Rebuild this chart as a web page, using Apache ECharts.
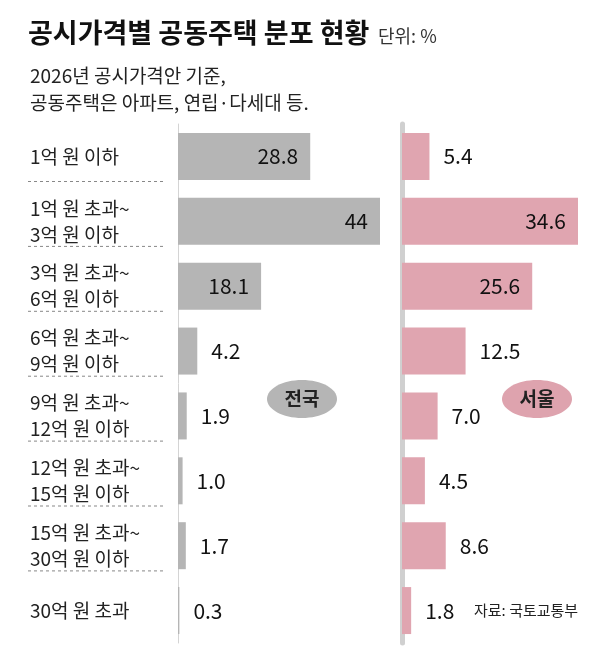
<!DOCTYPE html>
<html>
<head>
<meta charset="utf-8">
<script src="https://cdn.jsdelivr.net/npm/echarts@6/dist/echarts.min.js"></script>
<style>html,body{margin:0;padding:0;background:#fff}#main{width:610px;height:660px}</style>
</head>
<body>
<div id="main"></div>
<script>
var categories = ['1억 원 이하', '1억 원 초과~\n3억 원 이하', '3억 원 초과~\n6억 원 이하', '6억 원 초과~\n9억 원 이하',
  '9억 원 초과~\n12억 원 이하', '12억 원 초과~\n15억 원 이하', '15억 원 초과~\n30억 원 이하', '30억 원 초과'];
var national = [28.8, 44, 18.1, 4.2, 1.9, 1.0, 1.7, 0.3];
var nationalText = ['28.8', '44', '18.1', '4.2', '1.9', '1.0', '1.7', '0.3'];
var seoul = [5.4, 34.6, 25.6, 12.5, 7.0, 4.5, 8.6, 1.8];
var seoulText = ['5.4', '34.6', '25.6', '12.5', '7.0', '4.5', '8.6', '1.8'];
var nationalInside = 15;
var seoulInside = 20;

var FONT = '"Noto Sans CJK KR", sans-serif';
var myChart = echarts.init(document.getElementById('main'));

function barData(vals, texts, limit) {
  return vals.map(function (v, i) {
    return {
      value: v,
      shown: texts[i],
      label: v >= limit
        ? { position: 'insideRight', distance: 12 }
        : { position: 'right', distance: 14 }
    };
  });
}

var graphics = [
  { type: 'text', left: 28, top: 19, style: { text: '공시가격별 공동주택 분포 현황', font: 'bold 27px ' + FONT, fill: '#111' } },
  { type: 'text', left: 378, top: 27, style: { text: '단위: %', font: '18px ' + FONT, fill: '#333' } },
  { type: 'text', left: 30, top: 62, style: { text: '2026년 공시가격안 기준,\n공동주택은 아파트, 연립·다세대 등.', font: '19px ' + FONT, fill: '#222', lineHeight: 27 } },
  { type: 'ellipse', shape: { cx: 302, cy: 399, rx: 35, ry: 19 }, style: { fill: '#b5b5b5' } },
  { type: 'text', x: 302, y: 399, style: { text: '전국', font: 'bold 19px ' + FONT, fill: '#222', align: 'center', verticalAlign: 'middle' } },
  { type: 'ellipse', shape: { cx: 537, cy: 399, rx: 35, ry: 19 }, style: { fill: '#dea3ae' } },
  { type: 'text', x: 537, y: 399, style: { text: '서울', font: 'bold 19px ' + FONT, fill: '#222', align: 'center', verticalAlign: 'middle' } },
  { type: 'text', left: 474, top: 603, style: { text: '자료: 국토교통부', font: '15px ' + FONT, fill: '#222' } }
];
for (var i = 0; i < categories.length - 1; i++) {
  var y = 181.5 + i * 64.9;
  graphics.push({ type: 'line', shape: { x1: 28, y1: y, x2: 163, y2: y }, style: { stroke: '#888', lineWidth: 1, lineDash: [3, 3] } });
}

myChart.setOption({
  backgroundColor: '#fff',
  animation: false,
  textStyle: { fontFamily: FONT },
  graphic: graphics,
  grid: [
    { left: 178, top: 124, width: 202, height: 519 },
    { left: 402, top: 124, width: 176, height: 519 }
  ],
  xAxis: [
    { gridIndex: 0, type: 'value', min: 0, max: 44, show: false },
    { gridIndex: 1, type: 'value', min: 0, max: 34.6, show: false }
  ],
  yAxis: [
    {
      gridIndex: 0, type: 'category', data: categories, inverse: true,
      axisLine: { show: true, lineStyle: { color: '#d4d4d4', width: 1 } },
      axisTick: { show: false },
      axisLabel: { align: 'left', margin: 148, fontSize: 19, color: '#222', lineHeight: 26, fontFamily: FONT }
    },
    {
      gridIndex: 1, type: 'category', data: categories, inverse: true,
      axisLine: { show: true, lineStyle: { color: '#d0d0d0', width: 5 } },
      axisTick: { show: false },
      axisLabel: { show: false }
    }
  ],
  series: [
    {
      type: 'bar', xAxisIndex: 0, yAxisIndex: 0, barWidth: 47,
      itemStyle: { color: '#b5b5b5' },
      label: { show: true, fontSize: 21, color: '#111', formatter: function (p) { return p.data.shown; } },
      data: barData(national, nationalText, nationalInside)
    },
    {
      type: 'bar', xAxisIndex: 1, yAxisIndex: 1, barWidth: 47,
      itemStyle: { color: '#e0a5b0' },
      label: { show: true, fontSize: 21, color: '#111', formatter: function (p) { return p.data.shown; } },
      data: barData(seoul, seoulText, seoulInside)
    }
  ]
});
</script>
</body>
</html>
